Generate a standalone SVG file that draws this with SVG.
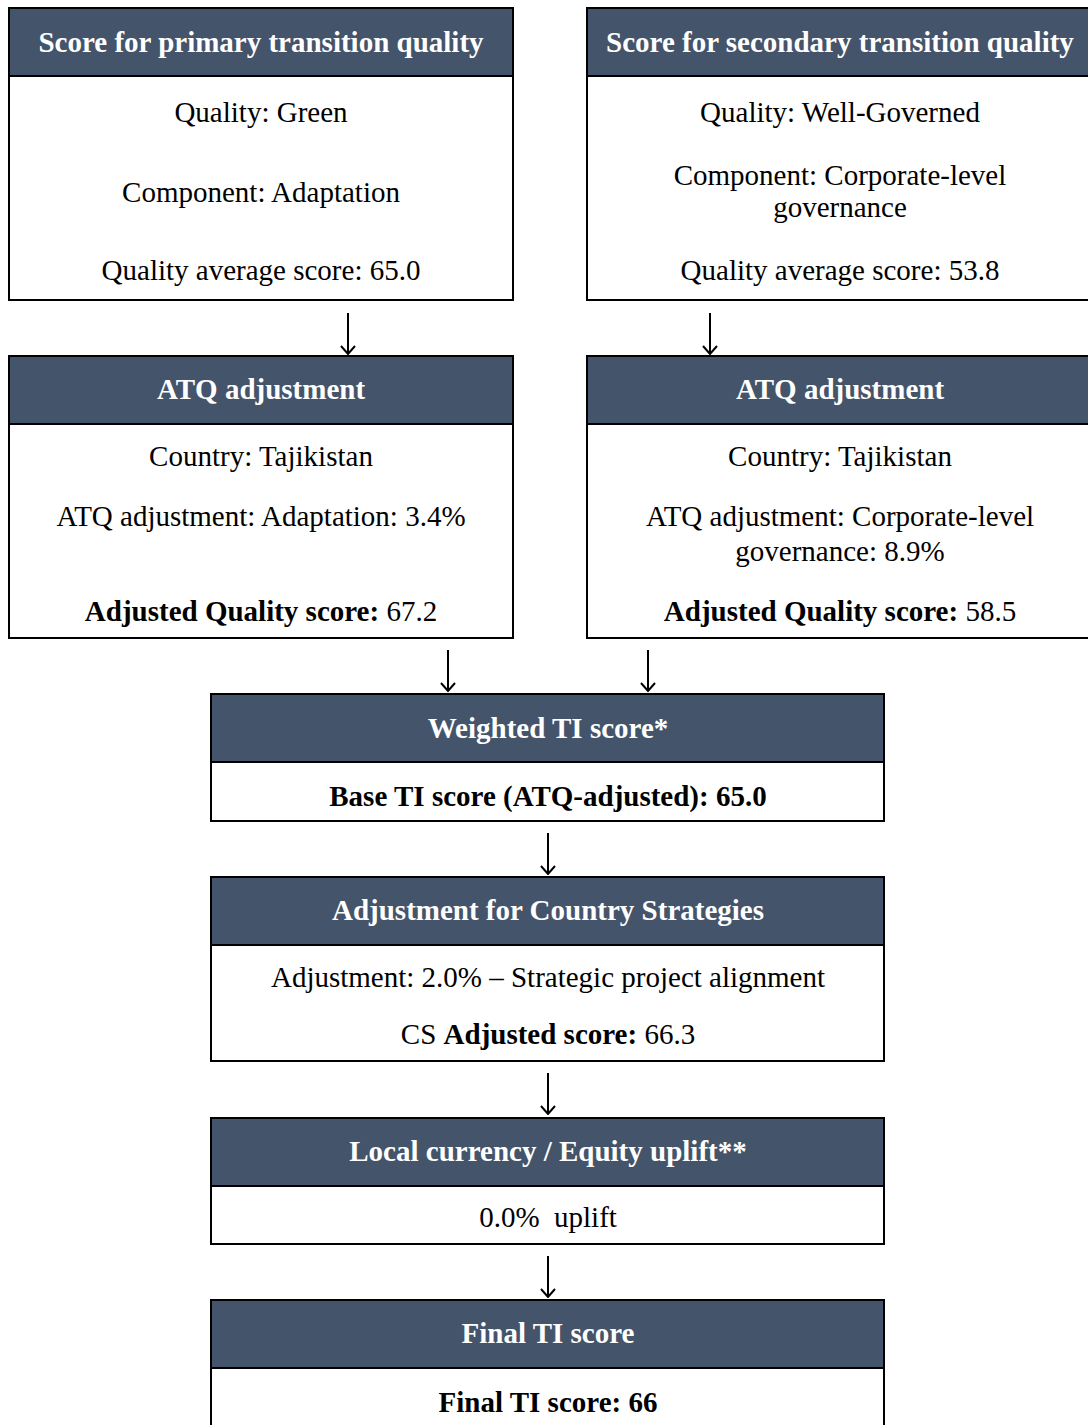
<svg xmlns="http://www.w3.org/2000/svg" width="1088" height="1425" viewBox="0 0 1088 1425">
<defs>
<style>
.box{fill:#ffffff;stroke:#000000;stroke-width:2}
.hdr{fill:#44546a;stroke:#000000;stroke-width:2}
.ht{font-family:"Liberation Serif","Times New Roman",serif;font-size:29px;font-weight:bold;fill:#ffffff;text-anchor:middle}
.bt{font-family:"Liberation Serif","Times New Roman",serif;font-size:29px;fill:#000000;text-anchor:middle}
.b{font-weight:bold}
.arr{stroke:#000000;stroke-width:2;fill:none}
</style>
<marker id="ah" viewBox="0 0 10 16" refX="9" refY="8" markerWidth="10" markerHeight="16" markerUnits="userSpaceOnUse" orient="auto">
<path d="M1,1 L9,8 L1,15" fill="none" stroke="#000" stroke-width="2"/>
</marker>
</defs>
<rect width="1088" height="1425" fill="#ffffff"/>

<g id="primary">
<rect class="box" x="9" y="8" width="504" height="292"/>
<rect class="hdr" x="9" y="8" width="504" height="68"/>
<text class="ht" x="261" y="52">Score for primary transition quality</text>
<text class="bt" x="261" y="122">Quality: Green</text>
<text class="bt" x="261" y="202">Component: Adaptation</text>
<text class="bt" x="261" y="280">Quality average score: 65.0</text>
</g>

<g id="secondary">
<rect class="box" x="587" y="8" width="504" height="292"/>
<rect class="hdr" x="587" y="8" width="504" height="68"/>
<text class="ht" x="840" y="52">Score for secondary transition quality</text>
<text class="bt" x="840" y="122">Quality: Well-Governed</text>
<text class="bt" x="840" y="185">Component: Corporate-level</text>
<text class="bt" x="840" y="217">governance</text>
<text class="bt" x="840" y="280">Quality average score: 53.8</text>
</g>

<g id="atq-left">
<rect class="box" x="9" y="356" width="504" height="282"/>
<rect class="hdr" x="9" y="356" width="504" height="68"/>
<text class="ht" x="261" y="399">ATQ adjustment</text>
<text class="bt" x="261" y="466">Country: Tajikistan</text>
<text class="bt" x="261" y="526">ATQ adjustment: Adaptation: 3.4%</text>
<text class="bt" x="261" y="621"><tspan class="b">Adjusted Quality score:</tspan> 67.2</text>
</g>

<g id="atq-right">
<rect class="box" x="587" y="356" width="504" height="282"/>
<rect class="hdr" x="587" y="356" width="504" height="68"/>
<text class="ht" x="840" y="399">ATQ adjustment</text>
<text class="bt" x="840" y="466">Country: Tajikistan</text>
<text class="bt" x="840" y="526">ATQ adjustment: Corporate-level</text>
<text class="bt" x="840" y="561">governance: 8.9%</text>
<text class="bt" x="840" y="621"><tspan class="b">Adjusted Quality score:</tspan> 58.5</text>
</g>

<g id="weighted">
<rect class="box" x="211" y="694" width="673" height="127"/>
<rect class="hdr" x="211" y="694" width="673" height="68"/>
<text class="ht" x="548" y="738">Weighted TI score*</text>
<text class="bt b" x="548" y="806">Base TI score (ATQ-adjusted): 65.0</text>
</g>

<g id="cs">
<rect class="box" x="211" y="877" width="673" height="184"/>
<rect class="hdr" x="211" y="877" width="673" height="68"/>
<text class="ht" x="548" y="920">Adjustment for Country Strategies</text>
<text class="bt" x="548" y="987">Adjustment: 2.0% – Strategic project alignment</text>
<text class="bt" x="548" y="1044">CS <tspan class="b">Adjusted score:</tspan> 66.3</text>
</g>

<g id="uplift">
<rect class="box" x="211" y="1118" width="673" height="126"/>
<rect class="hdr" x="211" y="1118" width="673" height="68"/>
<text class="ht" x="548" y="1161">Local currency / Equity uplift**</text>
<text class="bt" x="548" y="1227" xml:space="preserve">0.0%  uplift</text>
</g>

<g id="final">
<rect class="box" x="211" y="1300" width="673" height="140"/>
<rect class="hdr" x="211" y="1300" width="673" height="68"/>
<text class="ht" x="548" y="1343">Final TI score</text>
<text class="bt b" x="548" y="1412">Final TI score: 66</text>
</g>

<g id="connectors">
<line class="arr" x1="348" y1="313" x2="348" y2="354" marker-end="url(#ah)"/>
<line class="arr" x1="710" y1="313" x2="710" y2="354" marker-end="url(#ah)"/>
<line class="arr" x1="448" y1="650" x2="448" y2="691" marker-end="url(#ah)"/>
<line class="arr" x1="648" y1="650" x2="648" y2="691" marker-end="url(#ah)"/>
<line class="arr" x1="548" y1="833" x2="548" y2="874" marker-end="url(#ah)"/>
<line class="arr" x1="548" y1="1073" x2="548" y2="1114" marker-end="url(#ah)"/>
<line class="arr" x1="548" y1="1256" x2="548" y2="1297" marker-end="url(#ah)"/>
</g>
</svg>
